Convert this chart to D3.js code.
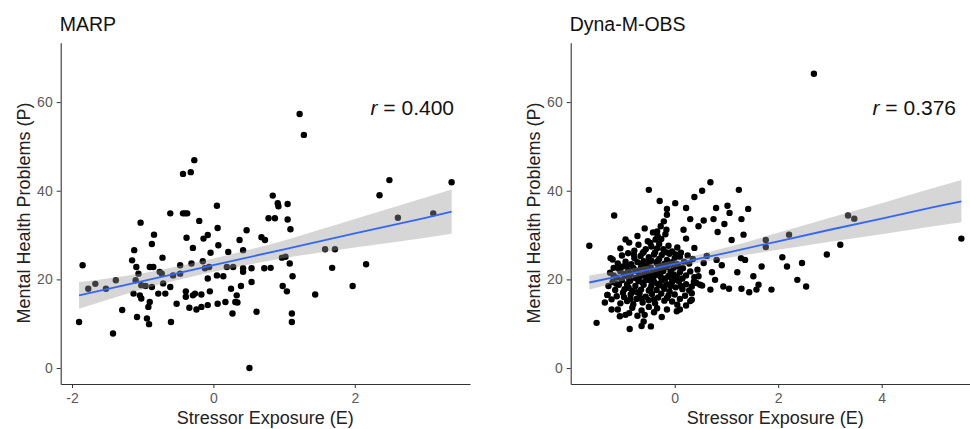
<!DOCTYPE html>
<head>
<meta charset="utf-8">
<script src="https://d3js.org/d3.v7.min.js"></script>
<style>
    body{margin:0;background:#fff;}
    .tick text{font-family:"Liberation Sans",Arial,sans-serif;font-size:14px;fill:#5a5a5a;}
    .tick line{stroke:#333;}
    .domain{stroke:#333;stroke-width:1.1;}
    .ttl{font-family:"Liberation Sans",Arial,sans-serif;fill:#111;}
</style>
</head>
<body>
<div id="container"></div>
<script>
    // MARP: stressor exposure (E), mental health problems (P)
    var marpPoints = [
        [-1.90,10.4],[-1.85,23.2],[-1.77,17.9],[-1.67,19.0],[-1.52,17.9],[-1.42,7.8],[-1.38,19.8],[-1.29,13.1],
        [-1.15,24.3],[-1.12,26.6],[-1.09,22.8],[-1.13,16.8],[-1.10,19.8],[-1.08,11.5],[-1.06,21.3],[-1.03,32.8],
        [-1.04,16.4],[-1.02,15.7],[-1.02,18.7],[-0.96,18.5],[-0.94,11.2],[-0.92,13.8],[-0.91,9.9],[-0.90,14.9],
        [-0.90,22.8],[-0.87,28.0],[-0.87,18.3],[-0.85,22.8],[-0.84,30.1],[-0.76,21.7],[-0.78,16.8],[-0.72,24.9],
        [-0.71,19.1],[-0.68,16.8],[-0.73,21.3],[-0.61,34.9],[-0.61,18.3],[-0.60,10.4],[-0.57,20.9],[-0.52,14.5],
        [-0.47,23.2],[-0.47,21.3],[-0.43,43.8],[-0.43,34.9],[-0.40,34.9],[-0.39,17.3],[-0.39,16.1],[-0.38,29.4],
        [-0.37,34.9],[-0.34,13.6],[-0.32,44.2],[-0.31,23.6],[-0.29,27.1],[-0.27,46.9],[-0.29,16.4],[-0.26,16.8],
        [-0.24,13.2],[-0.20,33.2],[-0.17,13.8],[-0.17,16.6],[-0.15,24.1],[-0.14,29.2],[-0.12,22.5],[-0.08,30.0],
        [-0.08,20.2],[-0.08,14.2],[-0.06,22.8],[-0.05,17.3],[-0.04,26.0],[0.05,36.6],[0.05,20.9],[0.06,14.5],
        [0.06,31.6],[0.07,27.7],[0.14,20.7],[0.17,14.9],[0.19,22.8],[0.21,26.2],[0.25,17.9],[0.27,12.3],
        [0.28,22.8],[0.31,14.9],[0.33,16.4],[0.34,14.8],[0.37,28.9],[0.39,18.5],[0.42,26.6],[0.42,22.5],
        [0.42,21.7],[0.47,31.1],[0.51,0.0],[0.54,19.4],[0.54,22.5],[0.61,12.7],[0.68,29.5],[0.73,28.9],
        [0.72,22.5],[0.78,33.8],[0.81,22.6],[0.84,38.9],[0.87,33.8],[0.91,37.2],[0.92,36.5],[0.97,24.9],
        [0.98,18.5],[1.02,25.1],[1.04,17.3],[1.05,37.0],[1.05,33.5],[1.08,23.6],[1.09,31.3],[1.11,12.3],
        [1.11,10.4],[1.12,20.7],[1.22,57.3],[1.28,52.6],[1.44,16.6],[1.58,26.8],[1.72,26.8],[1.68,22.6],
        [1.97,18.5],[2.16,23.4],[2.35,39.0],[2.49,42.4],[2.61,33.9],[3.11,34.9],[3.37,41.9]
    ];
    var marpFitE = [-1.9, -1, 0, 1, 2, 3, 3.37];
    var marpFit  = [16.4, 19.6, 23.2, 26.8, 30.4, 33.9, 35.3];
    var marpLo   = [13.4, 17.8, 21.7, 24.8, 27.2, 29.4, 30.3];
    var marpHi   = [19.4, 21.4, 24.7, 28.8, 33.6, 38.5, 40.3];

    // Dyna-M-OBS
    var dynaPoints = [
        [-1.65,27.6],[-1.51,10.2],[-1.17,34.4],[-1.24,24.8],[-1.35,14.8],[-1.22,13.2],[-1.30,16.5],[-1.06,11.7],
        [-0.87,8.8],[-0.88,12.4],[-0.64,9.5],[-0.46,9.4],[-0.50,40.2],[-0.29,37.7],[-0.15,35.9],[0.01,37.2],
        [0.22,36.1],[0.38,38.6],[0.53,40.0],[0.69,41.9],[1.24,40.2],[0.80,36.1],[1.02,36.6],[1.06,35.0],
        [1.42,35.9],[0.30,33.6],[0.46,32.0],[0.56,33.3],[0.75,33.6],[0.96,32.5],[0.83,30.7],[1.29,33.6],
        [1.10,28.9],[1.33,30.1],[0.17,31.2],[0.22,29.2],[0.38,27.1],[0.62,25.3],[0.91,23.2],[0.81,24.4],
        [1.28,24.8],[1.36,24.4],[1.21,21.6],[0.72,21.6],[0.78,19.9],[0.94,18.4],[1.05,17.9],[0.69,17.7],
        [1.29,17.9],[1.44,17.1],[1.52,20.7],[1.62,18.8],[1.58,17.7],[1.68,22.9],[1.76,28.9],[1.76,27.3],
        [1.87,17.7],[2.08,25.0],[2.17,22.9],[2.21,30.1],[2.37,19.9],[2.46,23.7],[2.54,18.4],[2.69,66.4],
        [2.94,25.6],[3.20,27.8],[3.35,34.4],[3.47,33.7],[5.54,29.2],[0.04,12.8],[0.10,13.2],[0.22,14.1],
        [0.33,15.4],[0.33,16.9],[0.33,18.4],[0.37,19.5],[0.49,18.8],[0.53,18.6],[0.46,20.7],[0.56,23.7],
        [-0.21,33.1],[-0.27,32.0],[-0.34,30.8],[-0.16,31.2],[-0.15,34.6],[-0.47,28.2],[-0.37,29.0],
        [-1.05,27.0],[-0.95,29.0],[-0.88,28.3],[-0.78,26.5],[-0.70,27.8],[-0.60,26.2],[-0.52,28.6],[-0.45,27.4],
        [-0.38,26.1],[-0.30,28.0],[-0.22,26.8],[-0.12,27.6],[-0.05,26.3],[0.05,27.2],[0.12,26.0],[0.25,25.4],
        [-0.33,29.8],[-0.42,30.6],[-0.18,30.2],
        [-1.20,24.5],[-1.10,23.6],[-1.02,25.4],[-0.95,24.0],[-0.90,25.9],[-0.84,23.4],[-0.78,24.8],[-0.72,23.9],
        [-0.66,25.3],[-0.60,24.1],[-0.55,23.3],[-0.50,25.0],[-0.45,24.2],[-0.40,25.6],[-0.35,23.7],[-0.30,24.6],
        [-0.25,25.5],[-0.20,23.5],[-0.15,24.4],[-0.10,25.8],[-0.05,23.9],[0.00,24.8],[0.05,23.4],[0.10,25.1],
        [0.18,24.0],[0.28,23.6],[0.35,24.6],[-0.62,25.9],[-0.28,23.1],
        [-1.25,21.5],[-1.18,22.6],[-1.12,20.4],[-1.05,21.8],[-1.00,22.9],[-0.95,20.8],[-0.90,22.0],[-0.85,21.2],
        [-0.80,22.6],[-0.76,20.3],[-0.70,21.6],[-0.65,22.8],[-0.60,20.9],[-0.55,22.1],[-0.50,21.0],[-0.46,22.7],
        [-0.42,20.5],[-0.37,21.7],[-0.32,22.5],[-0.27,20.6],[-0.22,21.9],[-0.17,22.8],[-0.12,20.8],[-0.08,21.8],
        [-0.02,22.6],[0.04,20.7],[0.10,21.6],[0.16,22.5],[0.22,20.9],[0.30,21.8],[0.38,20.5],[0.44,22.2],
        [0.15,20.2],[-0.88,20.1],
        [-1.28,18.5],[-1.20,19.4],[-1.15,17.6],[-1.08,18.8],[-1.02,19.8],[-0.97,17.8],[-0.92,18.9],[-0.86,19.7],
        [-0.82,17.4],[-0.76,18.5],[-0.70,19.6],[-0.65,17.7],[-0.60,18.8],[-0.55,19.9],[-0.50,17.5],[-0.45,18.6],
        [-0.40,19.5],[-0.35,17.6],[-0.30,18.7],[-0.25,19.8],[-0.20,17.9],[-0.15,18.9],[-0.10,17.3],[-0.05,19.4],
        [0.02,18.2],[0.08,19.6],[0.15,17.8],[0.22,18.9],[0.28,17.5],[0.42,19.2],
        [-1.30,16.5],[-1.22,15.5],[-1.12,16.2],[-1.05,14.6],[-0.98,16.0],[-0.92,15.1],[-0.85,16.6],[-0.80,14.4],
        [-0.74,15.6],[-0.68,16.8],[-0.62,14.8],[-0.56,16.1],[-0.50,15.3],[-0.44,16.7],[-0.38,14.6],[-0.32,15.9],
        [-0.26,16.8],[-0.20,15.2],[-0.12,16.4],[-0.05,15.0],[0.00,16.6],[0.10,15.6],[0.20,16.3],[0.30,15.1],
        [-1.10,13.2],[-0.95,12.0],[-0.82,13.6],[-0.72,11.8],[-0.64,13.0],[-0.58,12.0],[-0.50,13.8],[-0.40,12.6],
        [-0.34,13.5],[-0.25,11.5],[-0.15,13.2],[-0.60,10.5],
        [-0.92,23.2],[-0.75,22.0],[-0.63,23.6],[-0.52,24.0],[-0.43,21.8],[-0.33,24.1],[-0.24,22.6],[-0.13,23.2],
        [-0.02,21.1],[0.08,22.9],[-1.08,22.4],[-0.98,21.2],[-0.68,20.6],[-0.57,21.6],[-0.48,19.8],[-0.38,20.9],
        [-0.28,21.5],[-0.18,20.2],[-0.07,20.4],[0.03,19.9],[-1.13,19.0],[-0.89,18.1],[-0.73,17.1],[-0.62,19.3],
        [-0.47,17.9],[-0.33,19.0],[-0.22,18.4],[-0.08,18.5],[0.12,18.5],[-1.18,20.9],[-0.79,25.6],[-0.56,26.8],
        [-0.34,27.0],[-0.15,26.1],[0.02,25.6],[-0.86,15.6],[-0.65,15.7],[-0.40,15.5],[-0.15,15.8],[0.05,14.3],
        [-0.72,29.8],[-0.58,31.5],[-0.26,29.1],[-1.0,17.0]
    ];
    var dynaFitE = [-1.65, -1, 0, 1, 2, 3, 4, 5, 5.54];
    var dynaFit  = [19.3, 20.9, 23.5, 26.0, 28.6, 31.2, 33.7, 36.3, 37.6];
    var dynaLo   = [17.7, 19.7, 22.7, 24.8, 26.7, 28.5, 30.2, 32.0, 32.9];
    var dynaHi   = [20.9, 22.1, 24.3, 27.2, 30.5, 33.9, 37.2, 40.6, 42.4];

    var yTicks = [0, 20, 40, 60];
    var marpXTicks = [-2, 0, 2];
    var dynaXTicks = [0, 2, 4];

    var svg = d3.select("#container").append("svg").attr("width", 970).attr("height", 429);

    function drawPanel(p){
        var x = d3.scaleLinear().domain(p.xDomain).range(p.xRange);
        var y = d3.scaleLinear().domain([-3.6, 73.4]).range([384, 42.7]);
        var g = svg.append("g");

        //points first, ribbon over them like geom_smooth
        g.append("g").selectAll("circle").data(p.points).enter().append("circle")
            .attr("cx", d => x(d[0])).attr("cy", d => y(d[1])).attr("r", 3.2).attr("fill", "#000");

        var band = p.fitE.map((e, i) => ({e: e, lo: p.lo[i], hi: p.hi[i], fit: p.fit[i]}));
        g.append("path").datum(band)
            .attr("fill", "#999").attr("fill-opacity", 0.4)
            .attr("d", d3.area().curve(d3.curveMonotoneX).x(d => x(d.e)).y0(d => y(d.lo)).y1(d => y(d.hi)));
        g.append("path").datum(band)
            .attr("fill", "none").attr("stroke", "#3366FF").attr("stroke-width", 1.8)
            .attr("d", d3.line().x(d => x(d.e)).y(d => y(d.fit)));

        g.append("g").attr("transform", "translate(0,384)")
            .call(d3.axisBottom(x).tickValues(p.xTicks).tickFormat(d => String(d)).tickSize(4).tickSizeOuter(0).tickPadding(5));
        g.append("g").attr("transform", "translate(" + p.xRange[0] + ",0)")
            .call(d3.axisLeft(y).tickValues(yTicks).tickFormat(d => String(d)).tickSize(4).tickSizeOuter(0).tickPadding(4));

        g.append("text").attr("class", "ttl").attr("x", p.xRange[0] - 1).attr("y", 31)
            .style("font-size", "19.5px").text(p.title);
        var r = g.append("text").attr("class", "ttl").attr("x", p.rX).attr("y", 115)
            .attr("text-anchor", "end").style("font-size", "21px");
        r.append("tspan").style("font-style", "italic").text("r");
        r.append("tspan").text(" = " + p.r);
        g.append("text").attr("class", "ttl").attr("x", (p.xRange[0] + p.xRange[1]) / 2).attr("y", 424)
            .attr("text-anchor", "middle").style("font-size", "18px").style("fill", "#222").text("Stressor Exposure (E)");
        g.append("text").attr("class", "ttl")
            .attr("transform", "translate(" + (p.xRange[0] - 31) + ",213) rotate(-90)")
            .attr("text-anchor", "middle").style("font-size", "18px").style("fill", "#222").text("Mental Health Problems (P)");
    }

    drawPanel({title: "MARP", points: marpPoints, xDomain: [-2.16, 3.63], xRange: [60.7, 470], xTicks: marpXTicks,
        fitE: marpFitE, fit: marpFit, lo: marpLo, hi: marpHi, r: "0.400", rX: 454});
    drawPanel({title: "Dyna-M-OBS", points: dynaPoints, xDomain: [-2.01, 5.9], xRange: [570.7, 980], xTicks: dynaXTicks,
        fitE: dynaFitE, fit: dynaFit, lo: dynaLo, hi: dynaHi, r: "0.376", rX: 956});
</script>
</body>
